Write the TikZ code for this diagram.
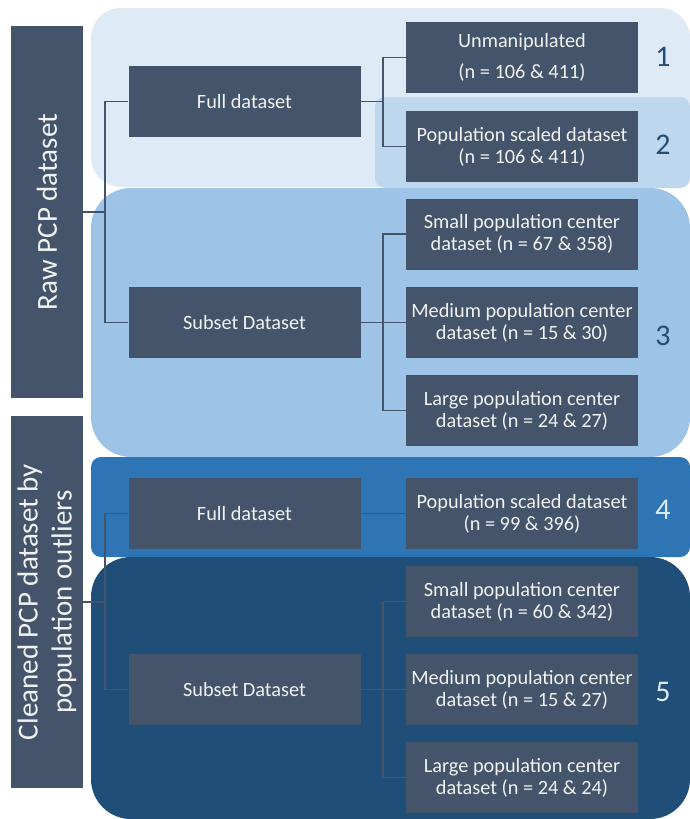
\documentclass[tikz,border=0pt]{standalone}
\usepackage{fontspec}
\setmainfont{Carlito}
\definecolor{regA}{HTML}{DEEAF6}
\definecolor{regB}{HTML}{BDD7EE}
\definecolor{regC}{HTML}{9DC3E6}
\definecolor{regD}{HTML}{2E75B6}
\definecolor{regE}{HTML}{1F4E79}
\definecolor{boxc}{HTML}{44546A}
\definecolor{txtc}{HTML}{F2F2F2}
\definecolor{numdark}{HTML}{1F4E79}
\definecolor{numlight}{HTML}{DEEBF7}
\begin{document}
\begin{tikzpicture}[x=1pt,y=-1pt,
  dbox/.style={fill=boxc,text=txtc,minimum width=232pt,minimum height=71pt,inner sep=0pt,align=center,font=\fontsize{20.3}{22}\selectfont},
  sidebar/.style={fill=boxc,text=txtc,minimum width=72pt,minimum height=372pt,inner sep=0pt},
  sidetext/.style={text=txtc,rotate=90,align=center,font=\fontsize{29}{34}\selectfont},
  conn/.style={draw=boxc,line width=1.3pt},
  numlab/.style={font=\fontsize{30}{30}\selectfont}]
\useasboundingbox (0,0) rectangle (690,819);
% regions
\fill[regA,rounded corners=30pt] (91,8) rectangle (690,187);
\fill[regB,rounded corners=10pt] (375,97) rectangle (690,188);
\fill[regC,rounded corners=40pt] (91,188) rectangle (690,457);
\fill[regD,rounded corners=10pt] (91,457) rectangle (690,557);
\fill[regE,rounded corners=40pt] (91,557) rectangle (690,819);
% side bars
\node[sidebar] (B1) at (47,212) {};
\node[sidetext] (T1) at (B1.center) {Raw PCP dataset};
\node[sidebar] (B2) at (47,602) {};
\node[sidetext] (T2) at (B2.center) {Cleaned PCP dataset by\\population outliers};
% boxes
\node[dbox] (F1) at (244.5,101.5) {Full dataset};
\node[dbox] (S1) at (244.5,322.5) {Subset Dataset};
\node[dbox] (U) at (522,57.5) {Unmanipulated\\[9pt](n = 106 \& 411)};
\node[dbox] (P) at (522,146.5) {Population scaled dataset\\(n = 106 \& 411)};
\node[dbox] (Sm) at (522,234) {Small population center\\dataset (n = 67 \& 358)};
\node[dbox] (Md) at (522,322.5) {Medium population center\\dataset (n = 15 \& 30)};
\node[dbox] (Lg) at (522,410.5) {Large population center\\dataset (n = 24 \& 27)};
\node[dbox] (F2) at (244.5,513.5) {Full dataset};
\node[dbox] (S2) at (244.5,689.5) {Subset Dataset};
\node[dbox] (P4) at (522,513.5) {Population scaled dataset\\(n = 99 \& 396)};
\node[dbox] (Sm2) at (522,601.5) {Small population center\\dataset (n = 60 \& 342)};
\node[dbox] (Md2) at (522,689.5) {Medium population center\\dataset (n = 15 \& 27)};
\node[dbox] (Lg2) at (522,777.5) {Large population center\\dataset (n = 24 \& 24)};
% numbers
\node[numlab,text=numdark] (n1) at (663,57) {1};
\node[numlab,text=numdark] (n2) at (663,145) {2};
\node[numlab,text=numdark] (n3) at (663,336) {3};
\node[numlab,text=numlight] (n4) at (663,510) {4};
\node[numlab,text=numlight] (n5) at (663,692) {5};
% connectors
\coordinate (j1) at (105,212);
\coordinate (j2) at (383,101.5);
\coordinate (j3) at (383,322.5);
\coordinate (k1) at (105,602);
\coordinate (k3) at (383,689.5);
\draw[conn] (B1.east) -- (j1);
\draw[conn] (F1.west) -| (j1) |- (S1.west);
\draw[conn] (F1.east) -- (j2);
\draw[conn] (U.west) -| (j2) |- (P.west);
\draw[conn] (S1.east) -- (j3);
\draw[conn] (Sm.west) -| (j3) |- (Lg.west);
\draw[conn] (j3) -- (Md.west);
\draw[conn] (B2.east) -- (k1);
\draw[conn] (F2.west) -| (k1) |- (S2.west);
\draw[conn] (F2.east) -- (P4.west);
\draw[conn] (S2.east) -- (k3);
\draw[conn] (Sm2.west) -| (k3) |- (Lg2.west);
\draw[conn] (k3) -- (Md2.west);
\end{tikzpicture}
\end{document}
